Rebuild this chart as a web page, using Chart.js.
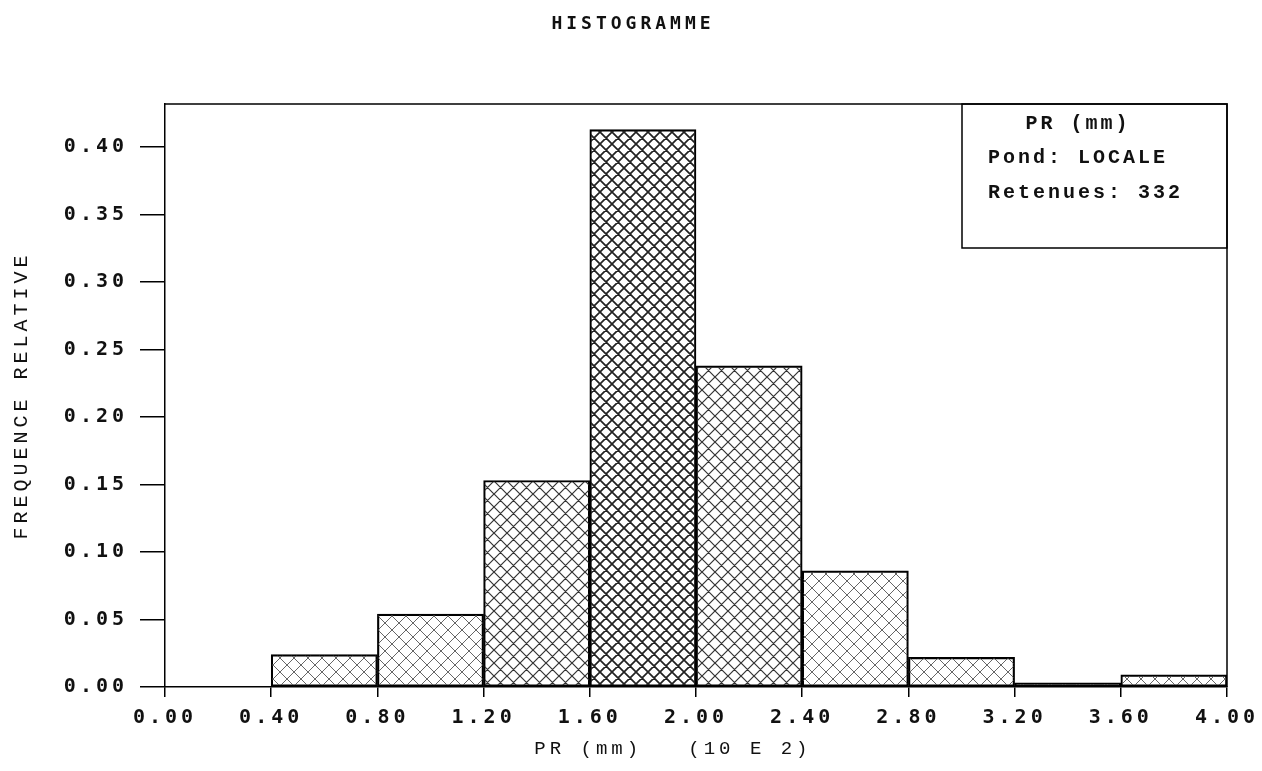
<!DOCTYPE html>
<html>
<head>
<meta charset="utf-8">
<title>Histogramme</title>
<script src="https://cdn.jsdelivr.net/npm/chart.js@4.4.1/dist/chart.umd.min.js"></script>
<style>
  html, body { margin:0; padding:0; background:#fff; }
  #wrap { width:1262px; height:771px; }
</style>
</head>
<body>
<div id="wrap"><canvas id="chart" width="1262" height="771"></canvas></div>
<script>
// bin edges (also the x tick labels) and relative frequency per bin
var binEdges = [0.00, 0.40, 0.80, 1.20, 1.60, 2.00, 2.40, 2.80, 3.20, 3.60, 4.00];
var freq     = [0.000, 0.024, 0.054, 0.153, 0.413, 0.238, 0.086, 0.022, 0.003, 0.009];
var yTicks   = [0.00, 0.05, 0.10, 0.15, 0.20, 0.25, 0.30, 0.35, 0.40];
var legendLines = ['PR (mm)', 'Pond: LOCALE', 'Retenues: 332'];

var INK = '#111';
var GAP = '4px';

// cross hatch pattern, period p px, line width lw
function hatch(p, lw, color) {
  var c = document.createElement('canvas');
  c.width = p; c.height = p;
  var g = c.getContext('2d');
  g.strokeStyle = color;
  g.lineWidth = lw;
  g.beginPath();
  for (var k = -1; k <= 1; k++) {
    g.moveTo(-1, -1 + k*p); g.lineTo(p+1, p+1 + k*p);
    g.moveTo(-1, p+1 + k*p); g.lineTo(p+1, -1 + k*p);
  }
  g.stroke();
  return g.createPattern(c, 'repeat');
}
var dense  = hatch(12, 1.7, '#222');
var medium = hatch(13, 1.2, '#333');
var light  = hatch(14, 0.9, '#555');

function fillFor(v) {
  if (v >= 0.3) return dense;
  if (v >= 0.15) return medium;
  return light;
}

var points = freq.map(function(v, i) {
  return { x: (binEdges[i] + binEdges[i+1]) / 2, y: v };
});

var spacing = {
  id: 'spacing',
  beforeLayout: function(chart) { chart.ctx.letterSpacing = GAP; },
  beforeDraw: function(chart) { chart.ctx.letterSpacing = GAP; }
};

var frame = {
  id: 'frame',
  afterDraw: function(chart) {
    var ctx = chart.ctx, a = chart.chartArea;
    ctx.save();
    ctx.strokeStyle = '#000';
    ctx.lineWidth = 1.5;
    ctx.beginPath();
    ctx.moveTo(a.left, a.top); ctx.lineTo(a.right, a.top); ctx.lineTo(a.right, a.bottom);
    ctx.stroke();

    // title
    ctx.fillStyle = INK;
    ctx.letterSpacing = '4px';
    ctx.font = 'bold 18px "DejaVu Sans Mono"';
    ctx.textAlign = 'center';
    ctx.textBaseline = 'middle';
    ctx.fillText('HISTOGRAMME', 633, 24);

    // info box, top right
    var bx = 962, by = a.top, bw = a.right - bx, bh = 144;
    ctx.beginPath();
    ctx.rect(bx, by, bw, bh);
    ctx.stroke();
    ctx.font = 'bold 20px "Liberation Mono"';
    ctx.letterSpacing = '3px';
    ctx.textAlign = 'center';
    ctx.fillText(legendLines[0], 1078, by + 20);
    ctx.textAlign = 'left';
    ctx.fillText(legendLines[1], 988, by + 54);
    ctx.fillText(legendLines[2], 988, by + 89);
    ctx.restore();
  }
};

new Chart(document.getElementById('chart'), {
  type: 'bar',
  data: {
    datasets: [{
      data: points,
      backgroundColor: freq.map(fillFor),
      borderColor: '#000',
      borderWidth: 1.5,
      borderSkipped: false,
      barPercentage: 1,
      categoryPercentage: 1
    }]
  },
  options: {
    responsive: false,
    animation: false,
    layout: { padding: { top: 104, right: 0, left: 0, bottom: 0 } },
    plugins: { legend: { display: false }, tooltip: { enabled: false } },
    scales: {
      x: {
        type: 'linear', min: 0, max: 4, offset: false,
        afterBuildTicks: function(s) { s.ticks = binEdges.map(function(v) { return { value: v }; }); },
        afterFit: function(s) { s.height = 84; s.paddingRight = 35; s.paddingLeft = 0; },
        ticks: {
          callback: function(v) { return Number(v).toFixed(2); },
          font: { family: 'DejaVu Sans Mono', size: 20, weight: 'bold' }, color: INK,
          padding: 9, maxRotation: 0, autoSkip: false
        },
        grid: { drawOnChartArea: false, offset: false, tickLength: 10, color: '#000', lineWidth: 1.5 },
        border: { color: '#000', width: 1.5 },
        title: {
          display: true, text: 'PR (mm)   (10 E 2)   ',
          font: { family: 'Liberation Mono', size: 19 }, color: INK,
          padding: { top: 0, bottom: 11 }
        }
      },
      y: {
        min: 0, max: 0.432,
        afterBuildTicks: function(s) { s.ticks = yTicks.map(function(v) { return { value: v }; }); },
        afterFit: function(s) { s.width = 165; },
        ticks: {
          callback: function(v) { return Number(v).toFixed(2); },
          font: { family: 'DejaVu Sans Mono', size: 20, weight: 'bold' }, color: INK,
          padding: 12
        },
        grid: { drawOnChartArea: false, tickLength: 25, color: '#000', lineWidth: 1.5 },
        border: { color: '#000', width: 1.5 },
        title: {
          display: true, text: 'FREQUENCE RELATIVE',
          font: { family: 'Liberation Mono', size: 20 }, color: INK,
          padding: { top: 10, bottom: 0 }
        }
      }
    }
  },
  plugins: [spacing, frame]
});
</script>
</body>
</html>
